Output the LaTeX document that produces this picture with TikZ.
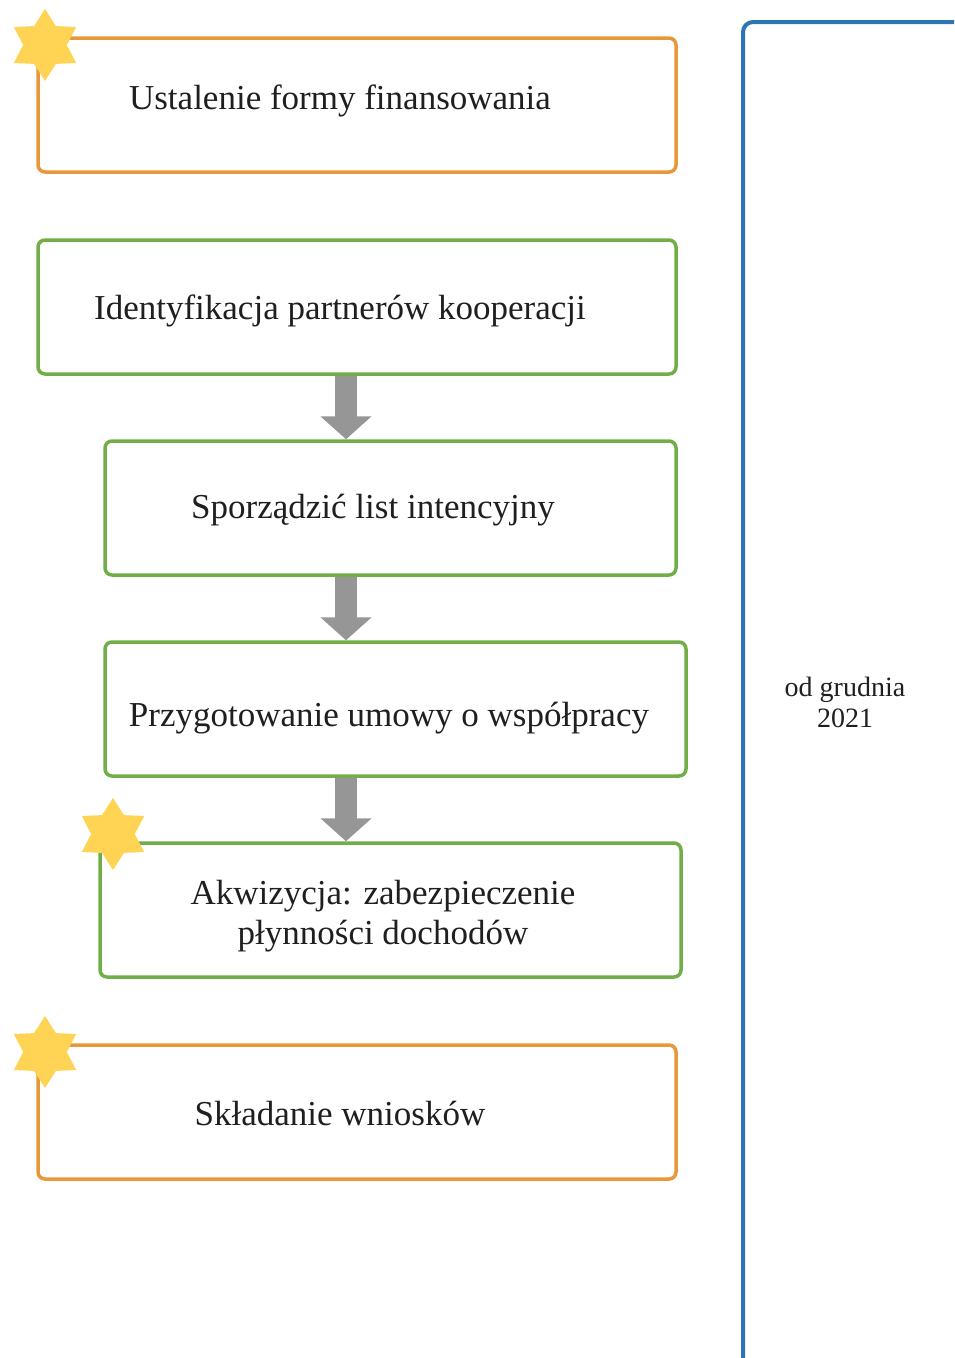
\documentclass[tikz,border=0pt]{standalone}
\usepackage{fontspec}
\setmainfont{Liberation Serif}
\usetikzlibrary{shapes.geometric,arrows.meta}

\definecolor{stepOrange}{RGB}{232,152,58}
\definecolor{stepGreen}{RGB}{114,174,72}
\definecolor{timeBlue}{RGB}{46,117,182}
\definecolor{starYellow}{RGB}{255,212,84}
\definecolor{arrowGray}{RGB}{150,150,150}

\begin{document}
\begin{tikzpicture}[x=1pt,y=-1pt,
  stepbox/.style={draw, line width=3.5pt, rounded corners=7pt, fill=white,
    inner sep=0pt, minimum height=134pt},
  orangebox/.style={stepbox, draw=stepOrange},
  greenbox/.style={stepbox, draw=stepGreen},
  steptext/.style={font=\fontsize{35}{40}\selectfont, text=black!88,
    align=center, inner sep=0pt},
  datetext/.style={font=\fontsize{28}{31}\selectfont, text=black!88,
    align=center, inner sep=0pt},
  starmark/.style={star, star points=6, star point ratio=1.65,
    minimum size=72pt, inner sep=0pt, fill=starYellow, draw=none},
  flow/.style={draw=arrowGray, line width=22pt,
    -{Triangle[width=50pt,length=23pt]}}]

\useasboundingbox (0,0) rectangle (954,1358);
\clip (0,0) rectangle (954,1358);

% time frame on the right
\node[draw=timeBlue, line width=4pt, rounded corners=10pt,
  minimum width=320pt, minimum height=1450pt, inner sep=0pt,
  anchor=north west] (frame) at (741,20) {};
\node[datetext] (date) at (845,702) {od grudnia\\2021};

% step boxes
\node[orangebox, minimum width=638pt] (b1) at (357,105) {};
\node[greenbox,  minimum width=638pt] (b2) at (357,307) {};
\node[greenbox,  minimum width=571pt] (b3) at (390.5,508) {};
\node[greenbox,  minimum width=581pt] (b4) at (395.5,709) {};
\node[greenbox,  minimum width=581pt] (b5) at (390.5,910) {};
\node[orangebox, minimum width=638pt] (b6) at (357,1112) {};

% step labels
\node[steptext] (t1) at (340,101)  {Ustalenie formy finansowania};
\node[steptext] (t2) at (340,311) {Identyfikacja partnerów kooperacji};
\node[steptext] (t3) at (373,510) {Sporządzić list intencyjny};
\node[steptext] (t4) at (389,718) {Przygotowanie umowy o współpracy};
\node[steptext] (t5) at (383,916) {Akwizycja: zabezpieczenie\\płynności dochodów};
\node[steptext] (t6) at (340,1113) {Składanie wniosków};

% arrows between consecutive steps
\coordinate (ax) at (346,0);
\draw[flow] (ax |- b2.south) -- (ax |- b3.north);
\draw[flow] (ax |- b3.south) -- (ax |- b4.north);
\draw[flow] (ax |- b4.south) -- (ax |- b5.north);

% star markers on box corners
\node[starmark] (s1) at (45,45) {};
\node[starmark] (s5) at (113,834) {};
\node[starmark] (s6) at (45,1052) {};
\end{tikzpicture}
\end{document}
